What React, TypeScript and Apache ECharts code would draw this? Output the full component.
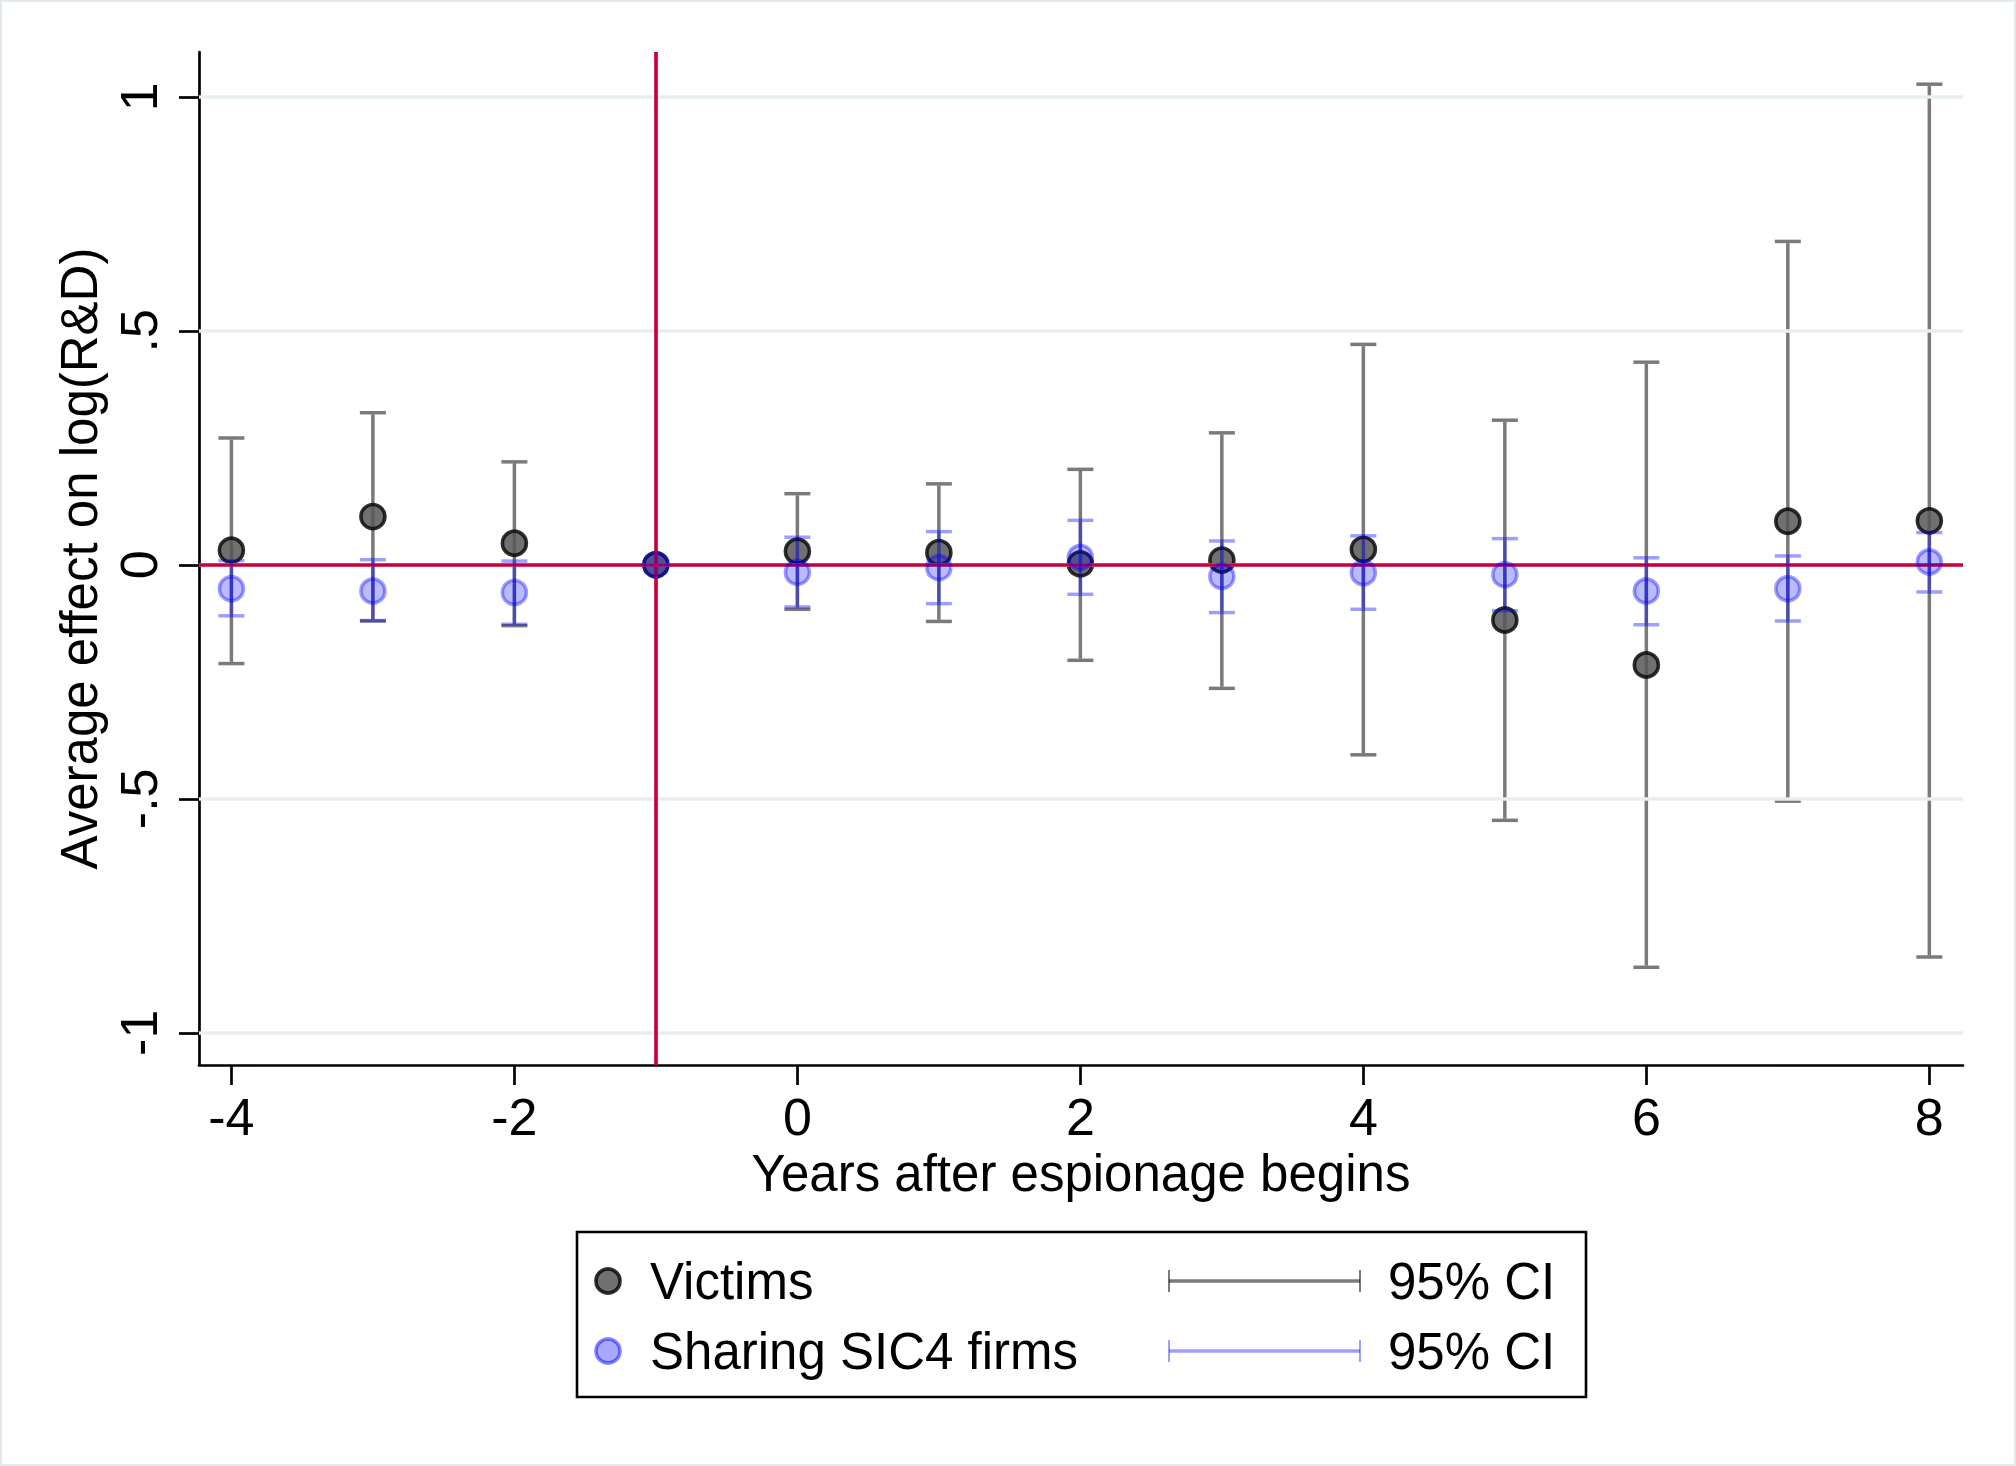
import React, { useEffect, useRef } from "react";
import * as echarts from "echarts";

// ---- data ----
const years = [-4, -3, -2, -1, 0, 1, 2, 3, 4, 5, 6, 7, 8];
const victimsEst = [0.031, 0.103, 0.046, 0, 0.029, 0.026, 0.002, 0.010, 0.033, -0.118, -0.214, 0.093, 0.094];
const victimsLo = [-0.211, -0.120, -0.130, null, -0.095, -0.121, -0.204, -0.264, -0.406, -0.546, -0.860, -0.505, -0.838];
const victimsHi = [0.271, 0.325, 0.220, null, 0.152, 0.173, 0.204, 0.282, 0.471, 0.309, 0.433, 0.691, 1.027];
const sharingEst = [-0.051, -0.056, -0.059, 0, -0.016, -0.006, 0.016, -0.025, -0.017, -0.021, -0.056, -0.051, 0.006];
const sharingLo = [-0.109, -0.119, -0.127, null, -0.090, -0.083, -0.063, -0.102, -0.095, -0.098, -0.128, -0.120, -0.058];
const sharingHi = [0.009, 0.011, 0.008, null, 0.059, 0.071, 0.095, 0.051, 0.062, 0.056, 0.015, 0.019, 0.069];

const xTicks = [-4, -2, 0, 2, 4, 6, 8];
const yTicks = [-1, -0.5, 0, 0.5, 1];
const yTickLabels = ["-1", "-.5", "0", ".5", "1"];
const refX = -1;
const refY = 0;

const seriesNames = ["Victims", "Sharing SIC4 firms"];
const ciLabel = "95% CI";
const xTitle = "Years after espionage begins";
const yTitle = "Average effect on log(R&D)";

const FONT = "'Liberation Sans', Arial, Helvetica, sans-serif";
const RED = "#c9003b";
const GRID = "#e7eef1";
const V_CI = "rgba(0,0,0,0.52)";
const S_CI = "rgba(0,0,255,0.38)";
const V_FILL = "#575757";
const V_EDGE = "#0a0a0a";
const S_FILL = "rgba(0,0,255,0.34)";
const S_EDGE = "rgba(0,0,255,0.48)";

function ciData(lo: (number | null)[], hi: (number | null)[]) {
  const out: any[] = [];
  years.forEach((y, i) => {
    if (lo[i] !== null && hi[i] !== null) out.push([y, lo[i], hi[i]]);
  });
  return out;
}

function makeCiRender(color: string) {
  return (params: any, api: any) => {
    const x = api.value(0);
    const pLo = api.coord([x, api.value(1)]);
    const pHi = api.coord([x, api.value(2)]);
    const hw = 13;
    const st = { stroke: color, lineWidth: 3.5, lineCap: "butt" };
    return {
      type: "group",
      children: [
        { type: "line", shape: { x1: pLo[0], y1: pLo[1] - 1.75, x2: pHi[0], y2: pHi[1] + 1.75 }, style: st },
        { type: "line", shape: { x1: pLo[0] - hw, y1: pLo[1], x2: pLo[0] + hw, y2: pLo[1] }, style: st },
        { type: "line", shape: { x1: pHi[0] - hw, y1: pHi[1], x2: pHi[0] + hw, y2: pHi[1] }, style: st },
      ],
    };
  };
}

export default function App() {
  const ref = useRef<HTMLDivElement>(null);
  useEffect(() => {
    if (!ref.current) return;
    const chart = echarts.init(ref.current, null, { renderer: "svg" });
    const victimsPts = years.map((y, i) => [y, victimsEst[i]]);
    const sharingPts = years.map((y, i) => [y, sharingEst[i]]);

    const legendRow1 = 1281;
    const legendRow2 = 1351;
    const textStyle = { fontSize: 51, fontFamily: FONT, fill: "#000", verticalAlign: "middle" };

    chart.setOption({
      animation: false,
      backgroundColor: "#ffffff",
      grid: {
        left: 199,
        top: 52,
        width: 1764,
        height: 1013,
        containLabel: false,
        outerBoundsMode: "none",
      },
      xAxis: {
        type: "value",
        min: -4.229,
        max: 8.238,
        axisLine: { show: true, onZero: false, lineStyle: { color: "#000", width: 2.7 } },
        axisTick: { show: true, length: 20, customValues: xTicks, lineStyle: { color: "#000", width: 2.7 } },
        axisLabel: {
          customValues: xTicks,
          fontSize: 52,
          fontFamily: FONT,
          color: "#000",
          margin: 26,
          formatter: (v: number) => String(v),
        },
        splitLine: { show: false },
        name: xTitle,
        nameLocation: "middle",
        nameGap: 82,
        nameTextStyle: { fontSize: 51, fontFamily: FONT, color: "#000" },
      },
      yAxis: {
        type: "value",
        min: -1.0688,
        max: 1.0958,
        axisLine: { show: true, onZero: false, lineStyle: { color: "#000", width: 2.7 } },
        axisTick: { show: true, length: 20, customValues: yTicks, lineStyle: { color: "#000", width: 2.7 } },
        axisLabel: {
          customValues: yTicks,
          rotate: 90,
          fontSize: 52,
          fontFamily: FONT,
          color: "#000",
          margin: 34,
          formatter: (v: number) => {
            const idx = yTicks.findIndex((t) => Math.abs(t - v) < 1e-9);
            return idx >= 0 ? yTickLabels[idx] : "";
          },
        },
        splitLine: { show: false },
        name: yTitle,
        nameLocation: "middle",
        nameRotate: 90,
        nameGap: 86,
        nameTextStyle: { fontSize: 51, fontFamily: FONT, color: "#000" },
      },
      series: [
        {
          type: "scatter",
          data: [],
          silent: true,
          z: 1,
          markLine: {
            silent: true,
            symbol: "none",
            label: { show: false },
            lineStyle: { color: GRID, width: 3.5, type: "solid" },
            data: yTicks.map((v) => ({ yAxis: v })),
          },
        },
        {
          type: "scatter",
          data: [],
          silent: true,
          z: 2,
          markLine: {
            silent: true,
            symbol: "none",
            label: { show: false },
            lineStyle: { color: RED, width: 3.7, type: "solid" },
            data: [{ yAxis: refY }, { xAxis: refX }],
          },
        },
        {
          type: "custom",
          name: seriesNames[0] + " CI",
          renderItem: makeCiRender(V_CI),
          data: ciData(victimsLo, victimsHi),
          z: 3,
          silent: true,
        },
        {
          type: "scatter",
          name: seriesNames[0],
          data: victimsPts,
          symbol: "circle",
          symbolSize: 24,
          z: 4,
          itemStyle: { color: V_FILL, borderColor: V_EDGE, borderWidth: 3.6, opacity: 0.85 },
        },
        {
          type: "custom",
          name: seriesNames[1] + " CI",
          renderItem: makeCiRender(S_CI),
          data: ciData(sharingLo, sharingHi),
          z: 5,
          silent: true,
        },
        {
          type: "scatter",
          name: seriesNames[1],
          data: sharingPts,
          symbol: "circle",
          symbolSize: 24,
          z: 6,
          itemStyle: { color: S_FILL, borderColor: S_EDGE, borderWidth: 3.6 },
        },
      ],
      graphic: [
        {
          type: "rect",
          shape: { x: 1, y: 1, width: 2014, height: 1464 },
          style: { fill: "none", stroke: "#e2eaec", lineWidth: 2 },
          silent: true,
        },
        {
          type: "rect",
          shape: { x: 577, y: 1232, width: 1009, height: 165 },
          style: { fill: "#fff", stroke: "#000", lineWidth: 2.6 },
          silent: true,
        },
        {
          type: "circle",
          shape: { cx: 608, cy: legendRow1, r: 12 },
          style: { fill: V_FILL, stroke: V_EDGE, lineWidth: 3.6, opacity: 0.85 },
        },
        {
          type: "circle",
          shape: { cx: 608, cy: legendRow2, r: 12 },
          style: { fill: S_FILL, stroke: S_EDGE, lineWidth: 3.6 },
        },
        { type: "text", x: 650, y: legendRow1, style: { ...textStyle, text: seriesNames[0] } },
        { type: "text", x: 650, y: legendRow2, style: { ...textStyle, text: seriesNames[1] } },
        { type: "line", shape: { x1: 1169, y1: legendRow1, x2: 1360, y2: legendRow1 }, style: { stroke: V_CI, lineWidth: 3.5 } },
        { type: "line", shape: { x1: 1169, y1: legendRow1 - 11, x2: 1169, y2: legendRow1 + 11 }, style: { stroke: V_CI, lineWidth: 2 } },
        { type: "line", shape: { x1: 1360, y1: legendRow1 - 11, x2: 1360, y2: legendRow1 + 11 }, style: { stroke: V_CI, lineWidth: 2 } },
        { type: "line", shape: { x1: 1169, y1: legendRow2, x2: 1360, y2: legendRow2 }, style: { stroke: S_CI, lineWidth: 3.5 } },
        { type: "line", shape: { x1: 1169, y1: legendRow2 - 11, x2: 1169, y2: legendRow2 + 11 }, style: { stroke: S_CI, lineWidth: 2 } },
        { type: "line", shape: { x1: 1360, y1: legendRow2 - 11, x2: 1360, y2: legendRow2 + 11 }, style: { stroke: S_CI, lineWidth: 2 } },
        { type: "text", x: 1388, y: legendRow1, style: { ...textStyle, text: ciLabel } },
        { type: "text", x: 1388, y: legendRow2, style: { ...textStyle, text: ciLabel } },
      ],
    });
    return () => chart.dispose();
  }, []);

  return (
    <div
      ref={ref}
      style={{ position: "absolute", left: 0, top: 0, width: 2016, height: 1466, background: "#fff" }}
    />
  );
}
